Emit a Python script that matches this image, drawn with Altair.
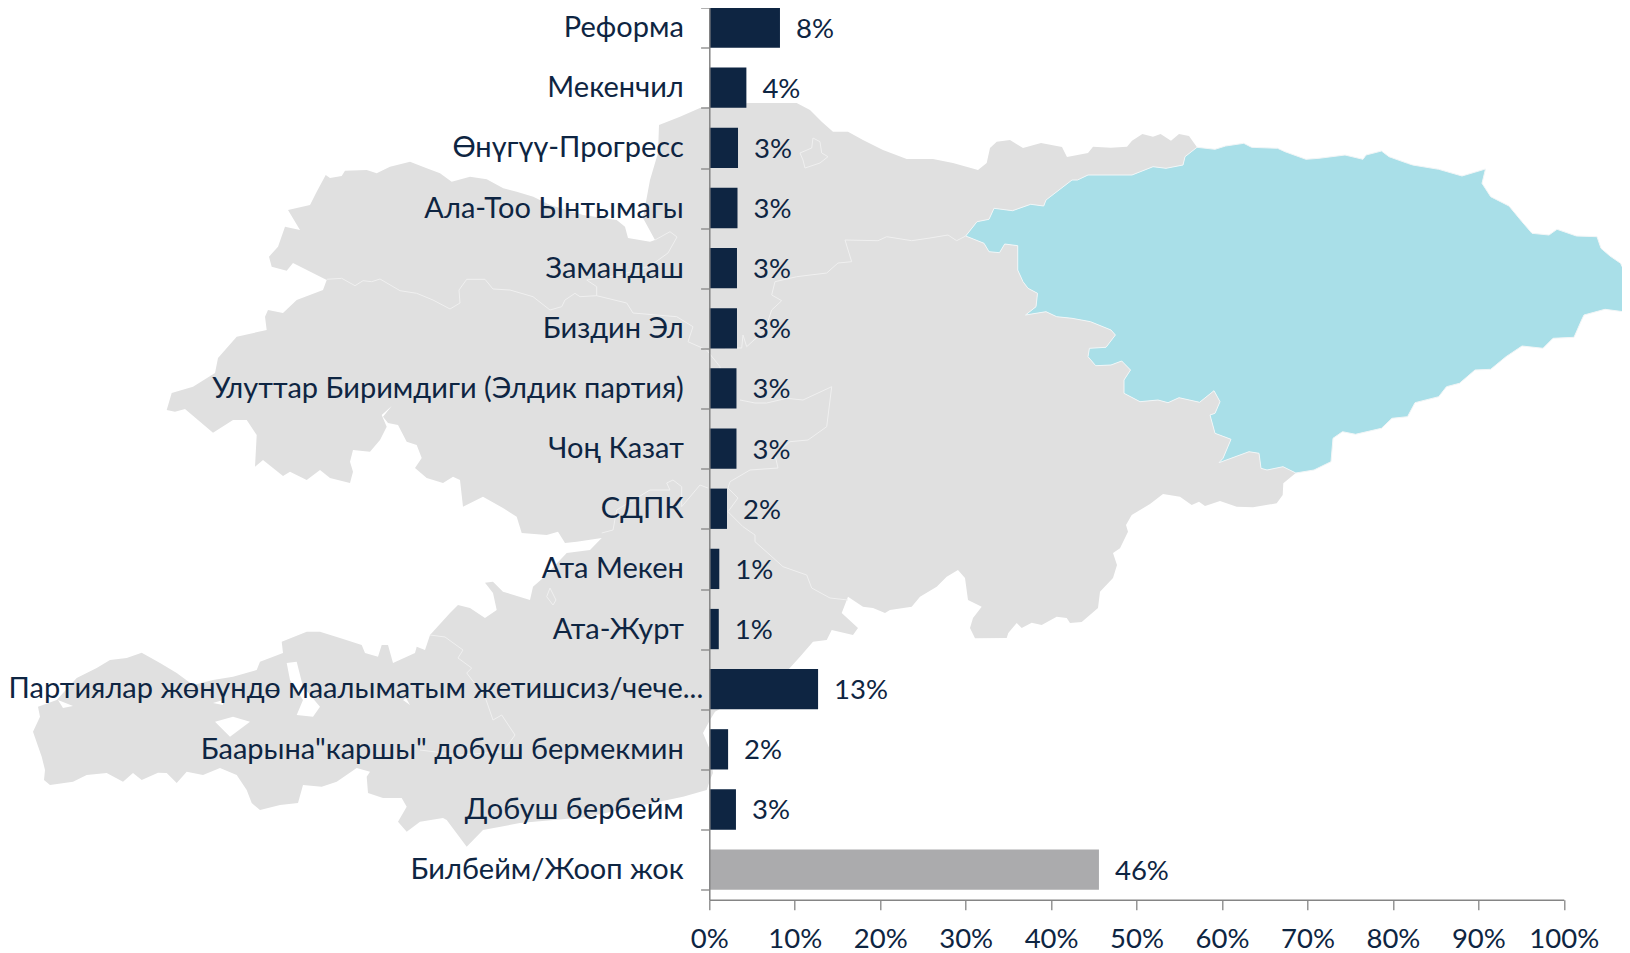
import altair as alt
import pandas as pd

FONT = "Lato"
FS = 29
FS_PCT = 27.5
NAVY = "#0E2542"
GREY_BAR = "#ABABAD"
AXIS = "#858585"

parties = ["Реформа", "Мекенчил", "Өнүгүү-Прогресс", "Ала-Тоо Ынтымагы", "Замандаш", "Биздин Эл",
           "Улуттар Биримдиги (Элдик партия)", "Чоң Казат", "СДПК", "Ата Мекен", "Ата-Журт",
           "Партиялар жөнүндө маалыматым жетишсиз/чече...", "Баарына\"каршы\" добуш бермекмин",
           "Добуш бербейм", "Билбейм/Жооп жок"]
values = [8.27, 4.34, 3.36, 3.3, 3.24, 3.24, 3.18, 3.18, 2.07, 1.17, 1.11, 12.73, 2.2, 3.12, 45.6]
labels = ["8%", "4%", "3%", "3%", "3%", "3%", "3%", "3%", "2%", "1%", "1%", "13%", "2%", "3%", "46%"]
x_ticks = [0, 10, 20, 30, 40, 50, 60, 70, 80, 90, 100]
LONG = parties[11]
DK = parties[14]

# Map outline (map units = reference pixels)
north = [(325.7,175),(330,178),(341.7,176),(345,170.7),(366.7,170),(376.7,173.3),(390,166.7),(410,161.7),
 (426.7,168.3),(440,173.3),(451.7,181.7),(470,176.7),(486.7,179.3),(503.3,188.3),(516.7,191.7),(533.3,196.7),
 (550,205),(583,215),(616.7,220),(625,226.7),(628,238),(650,241.7),(655,240),(643,218),(650,180),(658,153),
 (659,125),(680,116.7),(700,108),(710,107),(748,103),(796.7,103),(810,110),(821.7,121.7),(833,131.7),(848,131.7),
 (863,140),(883,150),(906.7,159),(933,159),(953,163),(978,170),(986.7,163),(990,148),(996.7,141.7),(1010,140),
 (1023,148),(1041,143),(1062,147),(1067,157),(1088,153),(1093,146.7),(1111,147.7),(1127,146.7),(1132,140.7),
 (1142.4,134),(1153,136.7),(1160.6,134),(1171,140.7),(1179,134),(1189,136),(1197,147.3)]
blue_east = [(1197,147.3),(1215,149.3),(1225.6,146),(1243.8,143.3),(1251.6,147.3),(1277.6,148.3),(1285,151.7),
 (1306,159.3),(1319,158.3),(1345,155),(1363,159.3),(1366,155),(1381.5,151),(1389,156.7),(1407.5,163.3),(1412.7,165),
 (1438.7,169.3),(1462,176),(1485.5,169),(1482,183.3),(1490.7,196.7),(1509,206),(1522,221.7),(1532,233.3),(1549,235),
 (1557,229.3),(1576.4,236),(1597,236.7),(1601,248.3),(1610,256),(1620.6,263.3),(1628.4,280),(1623,286.7),(1630,308.3),
 (1623,311.7),(1605,309.3),(1584,315),(1581.6,320),(1574,337.3),(1553,338.3),(1543,348.3),(1522,346),(1506,356.7),
 (1490.7,369.3),(1475,370),(1459.5,383.3),(1446.5,386.7),(1438.7,396.7),(1415,402.7),(1407.5,416.7),(1392,418.3),
 (1381.5,428.3),(1355.5,434.3),(1342.5,431.7),(1333,438.3),(1331,461.7),(1314,470),(1295.8,473)]
blue_west = [(1197,147.3),(1185,156.7),(1183,165),(1166,168.3),(1153,166.7),(1132,175),(1088,175),(1077.5,180),
 (1072,180),(1059,190),(1046,200),(1043.7,206),(1030.7,204.3),(1012.5,210.7),(994,208.3),(989,219.3),(977,221.7),
 (965.7,236),(984,243.3),(989,251.7),(999.5,252.7),(1004.7,244),(1017.7,245.7),(1017.7,270),(1023,281.7),(1028,288.3),
 (1037.5,293.3),(1036,306.7),(1025.5,315),(1046,311.7),(1056.7,316.7),(1072,318.3),(1090.5,321.7),(1111,330),
 (1115.4,335),(1106,347.3),(1089.4,348.3),(1088,356.7),(1095.7,365.7),(1111,365),(1121.7,361),(1130.5,370),(1124,380),
 (1124,393.3),(1140,401.7),(1158,400),(1168,402.7),(1179,397.7),(1199.6,402.3),(1214,390.7),(1220,401.7),(1215,413.3),
 (1210,415),(1215,433.3),(1231,439.3),(1223,458.3),(1219,462.7),(1249,451.7),(1259,453.3),(1261,468.3),(1267,470),
 (1283,466.7),(1295.8,473)]
south = [(1283.3,483.3),(1282.7,495),(1276.7,503.3),(1253,507.3),(1236.7,506.7),(1220,501),(1205,506),(1199,501.7),
 (1191.7,505),(1180,496.7),(1163,494),(1150,504),(1131.7,515),(1126,525),(1128,531.7),(1120,548.3),(1113,553),(1117,565),
 (1113,578),(1100,591.7),(1098,608),(1081.7,622),(1070,623),(1066.7,618),(1056.7,616.7),(1041.7,625),(1031.7,622.7),
 (1021.7,628),(1016.7,623),(1008.3,633),(1006.7,638),(975,638.3),(970,628),(973,618),(981.7,606.7),(968,600),(965,578),
 (958,570),(946.7,576.7),(936.7,586.7),(920,596.7),(911.7,606.7),(890,610),(885,613),(873,608),(863,606.7),(848,596.7),
 (841.7,613),(858,628),(853,635),(831.7,630),(826.7,640),(813,641.7),(800,656.7),(788,670),(715,711.7),(710,720),(703,733),
 (710,750),(713,773),(710,780),(706.7,790),(683,796.7),(653,803),(587,817),(520,823),(483,830),(466.7,846.7),(446.7,820),
 (443,818),(420,821.7),(406.7,831.7),(398,821.7),(406.7,806.7),(401.7,798),(383,798),(368,793),(366.7,776.7),(370,771.7),
 (356.7,768),(336.7,781.7),(321.7,786.7),(303,785),(298,803),(280,805),(260,810),(251.7,803),(246.7,790),(236.7,775),
 (220,768),(203,775),(186.7,771.7),(176.7,783),(166.7,773),(158,772.7),(141.7,780),(133,773),(123,781.7),(106.7,773),
 (86.7,775),(73,781.7),(50,785),(44,780),(45,770),(41.7,756.7),(33,731.7),(40,716.7),(38,706.7),(56.7,700),(76.7,678),
 (96.7,668),(110,660),(126.7,658),(141.7,652.7),(160,663),(176.7,673),(193,685),(213,680),(233,676.7),(256.7,670),
 (260,661.7),(283,653),(281.7,641.7),(306.7,631.7),(320,631.7),(340,638),(361.7,645),(365,653),(378,656.7),(381.7,645),
 (388,645),(393,663),(415,653),(416.7,646.7),(425,650),(430,635),(450,613),(458,605),(470,608),(485,618),(496.7,610),
 (493,593),(485,582.7),(493,581.7),(503,591.7),(530,600),(533,586.7),(543,578),(566.7,553),(590,550),(601.7,538),
 (576.7,541.7),(565,543),(558,531.7),(546.7,535),(521.7,533),(516.7,516.7),(503,508),(483,496.7),(463,506.7),(460,480),
 (453,476.7),(443,483),(426.7,478),(415,468),(421.7,458),(416.7,445),(406.7,441.7),(398,425),(388,423),(383,416.7),
 (391.7,406),(381.7,415),(386.7,426.7),(380,440),(370,451.7),(353,450),(350,461.7),(353,471.7),(350,483),(330,478),
 (320,470),(306.7,480),(290,471.7),(283,476),(263,460),(255,466.7),(256.7,435),(246.7,420),(233,420),(213,432.7),
 (185,409),(175,411.7),(166.7,410),(171.7,393),(193,386.7),(215,373),(218,358),(236.7,336.7),(266.7,330),(265,316.7),
 (268,310),(283,313),(296.7,300),(323,290),(326.7,280),(293,263),(286.7,270.7),(271.7,266.7),(269,256.7),(278,246.7),
 (285,226.7),(300,230),(288,210),(310,205),(316.7,191.7),(325.7,175)]
holes = [
 [(286.7,663),(296.7,661.7),(303,686.7),(320,706.7),(313,716.7),(296.7,715),(303,700),(290,680)],
 [(215,721.7),(233,716.7),(250,721.7),(230,736.7)],
 [(58,700),(73,706),(63,708)],
 [(213,703),(223,700),(223,705)],
 [(403,700),(410,705),(406,698)],
]
borders = [
 [(326.7,279.3),(341.7,278.3),(355,285.7),(363,280.7),(371.7,281.7),(380,279),(400,290.7),(416.7,293.3),(433,300),(450,309),
  (460,303),(459,290),(466.7,279.3),(485,279.3),(493,289),(510,290),(533,296.7),(550,310),(561.7,306.7),(565,300),(575,293.3),
  (580,296.7),(596.7,295.7),(626.7,303),(633,313),(676.7,316.7),(693,326.7),(688,341.7),(706.7,350),(720,366.7),(722,400)],
 [(655,240),(670,231.7),(677,237),(668,253),(650,266),(620,275),(586.7,280),(596.7,286.7),(596.7,295.7)],
 [(813,138),(820,141.7),(821.7,153),(828,156.7),(820,163),(805,168),(803,160),(800,153),(811.7,148),(813,138)],
 [(965.7,236),(956.7,240.7),(948,235),(930,238),(911.7,240.7),(886.7,236.7),(878,240.7),(845,240),(851.7,261.7),(838,263),
  (826.7,273),(796.7,276.7),(775,281.7),(771.7,295),(781.7,300.7),(771.7,310),(765,330),(746.7,346.7),(743,335),(741.7,348),(725,348)],
 [(740,400),(755,403),(766.7,403),(786.7,398.3),(803,400),(831.7,386.7),(826.7,426.7),(808,440),(790,441.7),(775,455),(778,468),
  (750,470),(730,481.7),(728,488),(738,498),(728,511.7),(743,526.7),(755,535),(755,541.7),(770,555),(783,566.7),(806.7,575),
  (811.7,588),(830,598),(848,600)],
 [(708,488),(700,485),(681.7,506.7),(681.7,486.7),(673,480),(666.7,483),(670,490),(650,490),(616.7,510),(613,530),(601.7,533)],
 [(550,588),(556,600),(553,605),(546.7,596.7),(550,588)],
 [(430,635),(445,637),(463,650),(458,658),(471.7,668),(466.7,673),(485,696.7),(493,720),(501.7,715),(515,735),(503,751.7),(460,755),(420,750)],
]

def area(r):
    return sum(a[0]*b[1]-b[0]*a[1] for a, b in zip(r, r[1:]+r[:1]))

def ring(r, positive):
    r = list(r)
    if (area(r) > 0) != positive:
        r = r[::-1]
    if r[0] != r[-1]:
        r = r + [r[0]]
    return [list(p) for p in r]

gray_outer = north + blue_west[1:] + south
gray_feature = {"type": "Feature", "properties": {"k": "gray"},
                "geometry": {"type": "Polygon",
                             "coordinates": [ring(gray_outer, True)] + [ring(h, False) for h in holes]}}
blue_feature = {"type": "Feature", "properties": {"k": "blue"},
                "geometry": {"type": "Polygon", "coordinates": [ring(blue_east + blue_west[::-1][1:], True)]}}
line_feature = [{"type": "Feature", "properties": {"k": "b"},
                 "geometry": {"type": "LineString", "coordinates": [list(p) for p in b]}} for b in borders]

PLOT_X, PLOT_Y = 709.3, -2.5
PW, PH = 854.5, 902.2
proj = dict(type="identity", scale=1, translate=[-PLOT_X, -PLOT_Y])

gray = alt.Chart(alt.Data(values=[gray_feature])).mark_geoshape(fill="#E0E0E0", stroke=None, clip=False).project(**proj)
blue = alt.Chart(alt.Data(values=[blue_feature])).mark_geoshape(fill="#A9DFE8", stroke="#F2F6F7", strokeWidth=1, clip=False).project(**proj)
lines = alt.Chart(alt.Data(values=line_feature)).mark_geoshape(filled=False, stroke="#F0F0F0", strokeWidth=1, clip=False).project(**proj)

df = pd.DataFrame({"party": parties, "value": values, "label": labels})

y = alt.Y("party:N", sort=parties,
          scale=alt.Scale(paddingInner=0.33, paddingOuter=0.165),
          axis=alt.Axis(title=None, tickBand="extent", tickSize=8.7, tickWidth=1.3, tickColor=AXIS,
                        domainColor=AXIS, domainWidth=1.5, labelPadding=17.3, labelLimit=800,
                        labelFont=FONT, labelFontSize=FS, labelColor=NAVY, grid=False, zindex=1,
                        labelExpr=f"datum.value == '{LONG}' ? '' : datum.value"))
x = alt.X("value:Q", scale=alt.Scale(domain=[0, 100], nice=False),
          axis=alt.Axis(title=None, values=x_ticks, format="d", labelExpr="datum.value + '%'",
                        tickSize=10, tickWidth=1.3, tickColor=AXIS, domainColor=AXIS, domainWidth=1.5,
                        labelPadding=16, labelFont=FONT, labelFontSize=FS_PCT, labelColor=NAVY, grid=False,
                        labelFlush=False, zindex=1))

bars = alt.Chart(df).mark_bar(cornerRadius=0).encode(
    x=x, y=y,
    color=alt.condition(alt.datum.party == DK, alt.value(GREY_BAR), alt.value(NAVY)))
text = alt.Chart(df).mark_text(align="left", baseline="middle", dx=16, dy=2, font=FONT, fontSize=FS_PCT, color=NAVY).encode(
    x="value:Q", y=alt.Y("party:N", sort=parties), text="label:N")
long_label = alt.Chart(df).transform_filter(alt.datum.party == LONG).mark_text(
    align="right", baseline="middle", font=FONT, fontSize=FS, color=NAVY).encode(
    x=alt.value(-6), y=alt.Y("party:N", sort=parties), text="party:N")

chart = alt.layer(gray, blue, lines, bars, text, long_label).properties(
    width=PW, height=PH,
    autosize=alt.AutoSizeParams(type="none"),
    padding={"left": 701.3, "top": -10.5, "right": 58.2, "bottom": 53.3},
).configure_view(stroke=None)

chart.save("out.html", embed_options={"renderer": "svg", "actions": False})
